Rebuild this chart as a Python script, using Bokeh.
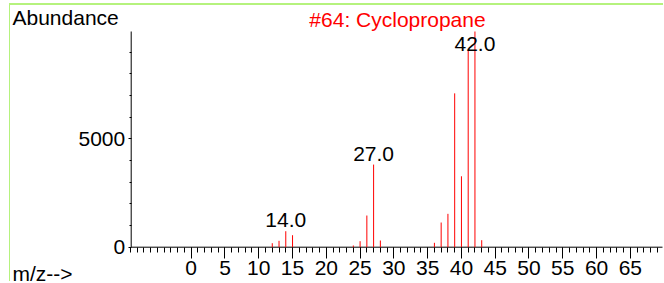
from bokeh.plotting import figure
from bokeh.models import FixedTicker, Label, ColumnDataSource, Range1d
from bokeh.core.properties import value
from bokeh.embed import file_html
from bokeh.resources import INLINE

# ---- data ----
mz = [12, 13, 14, 15, 24, 25, 26, 27, 28, 36, 37, 38, 39, 40, 41, 42, 43]
abundance = [184, 295, 737, 553, 78, 277, 1461, 3811, 309, 203, 1138, 1539, 7097, 3272, 9097, 9950, 323]
labelled_mz = [14, 27, 42]
x_major_ticks = [0, 5, 10, 15, 20, 25, 30, 35, 40, 45, 50, 55, 60, 65]
x_minor_ticks = list(range(-9, 70))
y_major_ticks = [0, 5000]
y_minor_ticks = [1000, 2000, 3000, 4000, 6000, 7000, 8000, 9000]
x_axis_start, x_axis_end = -8.88, 69.76
title_text = "#64: Cyclopropane"
y_title = "Abundance"
x_title = "m/z-->"

FONT = "Liberation Sans"
FS = "21px"
W, H = 654, 278
# pixel geometry of the axes box inside the canvas
AX_L, AX_R, AX_T, AX_B = 120.7, 652.0, 26.0, 241.7

ymax = max(abundance)
xs = (AX_R - AX_L) / (x_axis_end - x_axis_start)
ys = (AX_B - AX_T) / ymax
xr = Range1d(x_axis_start - AX_L / xs, x_axis_end + (W - AX_R) / xs)
yr = Range1d(-(H - AX_B) / ys, ymax + AX_T / ys)

p = figure(width=W, height=H, output_backend="svg", toolbar_location=None,
           x_range=xr, y_range=yr,
           min_border_left=0, min_border_right=0, min_border_top=0, min_border_bottom=0)
p.styles = {"margin-top": "3px", "margin-left": "9px",
            "border-top": "2px solid #b5f27d", "border-left": "1px solid #b5f27d"}
p.outline_line_color = None
p.grid.visible = False
p.background_fill_color = "white"
p.border_fill_color = "white"

# axis lines (the library's axes are pinned inside the frame, their own lines hidden)
p.segment(x0=[x_axis_start, x_axis_start], y0=[0, 0], x1=[x_axis_end, x_axis_start], y1=[0, ymax],
          line_color="black", line_width=1)

src = ColumnDataSource(dict(x=mz, y0=[0] * len(mz), y1=abundance))
p.segment(x0="x", y0="y0", x1="x", y1="y1", source=src, line_color="#ff0000", line_width=1)

lab_y = [min(abundance[mz.index(m)], 0.89 * ymax) for m in labelled_mz]
lab_txt = ["%.1f" % m for m in labelled_mz]
p.text(x=labelled_mz, y=lab_y, text=lab_txt, text_align="center", text_baseline="bottom",
       y_offset=-4, text_font=value(FONT), text_font_size=value(FS), text_color="black")

xa = p.xaxis[0]
xa.fixed_location = 0
xa.ticker = FixedTicker(ticks=x_major_ticks, minor_ticks=x_minor_ticks)
xa.major_tick_out = 11
xa.major_tick_in = 0
xa.minor_tick_out = 5
xa.minor_tick_in = 0
xa.major_label_standoff = 3
xa.major_label_text_font = FONT
xa.major_label_text_font_size = FS
xa.major_label_text_color = "black"
xa.axis_line_color = None

ya = p.yaxis[0]
ya.fixed_location = x_axis_start
ya.ticker = FixedTicker(ticks=y_major_ticks, minor_ticks=y_minor_ticks)
ya.major_tick_out = 3
ya.major_tick_in = 0
ya.minor_tick_out = 2
ya.minor_tick_in = 0
ya.major_label_standoff = 3
ya.major_label_text_font = FONT
ya.major_label_text_font_size = FS
ya.major_label_text_color = "black"
ya.axis_line_color = None
ya.major_label_orientation = "horizontal"


def canvas_label(x, y, text, color="black", align="left"):
    """Label positioned in canvas pixels (y downward from canvas top)."""
    try:
        return Label(x=x, y=y, x_units="canvas", y_units="canvas", text=text,
                     text_font=FONT, text_font_size=FS, text_color=color,
                     text_align=align, text_baseline="alphabetic")
    except Exception:
        return Label(x=x, y=H - y, x_units="screen", y_units="screen", text=text,
                     text_font=FONT, text_font_size=FS, text_color=color,
                     text_align=align, text_baseline="alphabetic")


p.add_layout(canvas_label(1, 10, y_title))
p.add_layout(canvas_label(386, 12, title_text, color="#ff0000", align="center"))
p.add_layout(canvas_label(1, 266, x_title))

open("out.html", "w").write(file_html(p, INLINE))
